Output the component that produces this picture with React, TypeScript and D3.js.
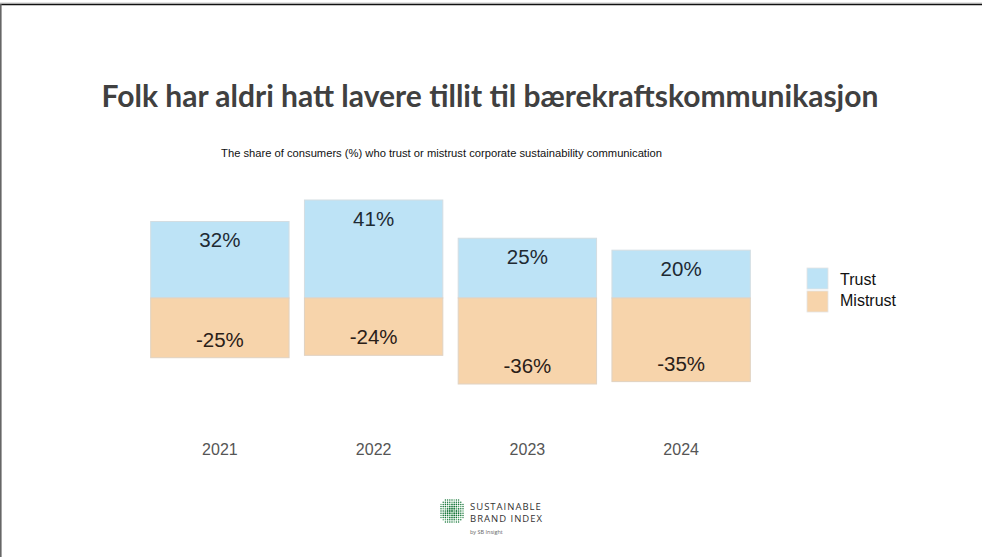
import React from "react";
import * as d3 from "d3";

const years = ["2021", "2022", "2023", "2024"];
const trust = [32, 41, 25, 20];
const mistrust = [-25, -24, -36, -35];
const seriesNames = ["Trust", "Mistrust"];
const title = "Folk har aldri hatt lavere tillit til bærekraftskommunikasjon";
const subtitle = "The share of consumers (%) who trust or mistrust corporate sustainability communication";

const W = 982;
const H = 557;
const colors = { Trust: "#bde3f6", Mistrust: "#f7d4ab" };

export default function App() {
  const x = d3.scaleBand().domain(years).range([143, 758]).paddingInner(0.1).paddingOuter(0.05);
  const y = d3.scaleLinear().domain([-36, 41]).range([384, 200]);
  const bw = x.bandwidth();
  const y0 = y(0);

  // logo globe dots
  const dots: { cx: number; cy: number; r: number }[] = [];
  const gcx = 452, gcy = 511, gr = 13.5;
  for (let i = -7; i <= 7; i++) {
    for (let j = -7; j <= 7; j++) {
      const dx = i * 2.2, dy = j * 2.2;
      const d = Math.sqrt(dx * dx + dy * dy);
      if (d <= gr - 0.6) dots.push({ cx: gcx + dx, cy: gcy + dy, r: 1.0 * (1 - (d / gr) * 0.3) });
    }
  }

  return (
    <svg width={W} height={H} style={{ position: "absolute", left: 0, top: 0, background: "#fff" }}>
      {/* frame */}
      <line x1={0} x2={W} y1={3} y2={3} stroke="#c8c8c8" strokeWidth={1} />
      <line x1={0} x2={W} y1={4.5} y2={4.5} stroke="#111" strokeWidth={1.3} />
      <line x1={0.8} x2={0.8} y1={4} y2={H} stroke="#666" strokeWidth={1.6} />

      <text x={490} y={107} textAnchor="middle" fontFamily="Lato, 'Open Sans', sans-serif" fontWeight={700} fontSize={30} fill="#404040">
        {title}
      </text>
      <text x={441.5} y={157} textAnchor="middle" fontFamily="'Liberation Sans', Arial, sans-serif" fontSize={11.2} fill="#111">
        {subtitle}
      </text>

      {years.map((yr, i) => {
        const x0 = x(yr)!;
        const cx = x0 + bw / 2;
        const yt = y(trust[i]);
        const yb = y(mistrust[i]);
        return (
          <g key={yr}>
            <rect x={x0} y={yt} width={bw} height={y0 - yt} fill={colors.Trust} stroke="#d3dde2" strokeWidth={1} />
            <rect x={x0} y={y0} width={bw} height={yb - y0} fill={colors.Mistrust} stroke="#e0d2c2" strokeWidth={1} />
            <text x={cx} y={yt + 25.5} textAnchor="middle" fontFamily="'Liberation Sans', Arial, sans-serif" fontSize={20.5} fill="#1e2a33">
              {trust[i]}%
            </text>
            <text x={cx} y={yb - 11} textAnchor="middle" fontFamily="'Liberation Sans', Arial, sans-serif" fontSize={20.5} fill="#2a2018">
              {mistrust[i]}%
            </text>
            <text x={cx} y={455} textAnchor="middle" fontFamily="'Liberation Sans', Arial, sans-serif" fontSize={16} fill="#555">
              {yr}
            </text>
          </g>
        );
      })}

      {seriesNames.map((s, i) => (
        <g key={s}>
          <rect x={807} y={268 + i * 23} width={21} height={21} fill={colors[s as "Trust" | "Mistrust"]} stroke="#e4e4e4" strokeWidth={0.8} />
          <text x={840} y={285 + i * 21} fontFamily="'Liberation Sans', Arial, sans-serif" fontSize={16} fill="#111">
            {s}
          </text>
        </g>
      ))}

      {/* logo */}
      <circle cx={gcx} cy={gcy} r={gr} fill="#fff" />
      {dots.map((d, k) => (
        <circle key={k} cx={d.cx} cy={d.cy} r={d.r} fill={(k * 7) % 5 === 0 ? "#5aa870" : "#17773a"} />
      ))}
      <text x={470} y={510} fontFamily="'Open Sans', sans-serif" fontSize={9.5} fill="#333" letterSpacing={1}>SUSTAINABLE</text>
      <text x={470} y={522} fontFamily="'Open Sans', sans-serif" fontSize={9.5} fill="#333" letterSpacing={1}>BRAND INDEX</text>
      <text x={470} y={534} fontFamily="'Open Sans', sans-serif" fontSize={5.5} fill="#666">by SB Insight</text>
    </svg>
  );
}
